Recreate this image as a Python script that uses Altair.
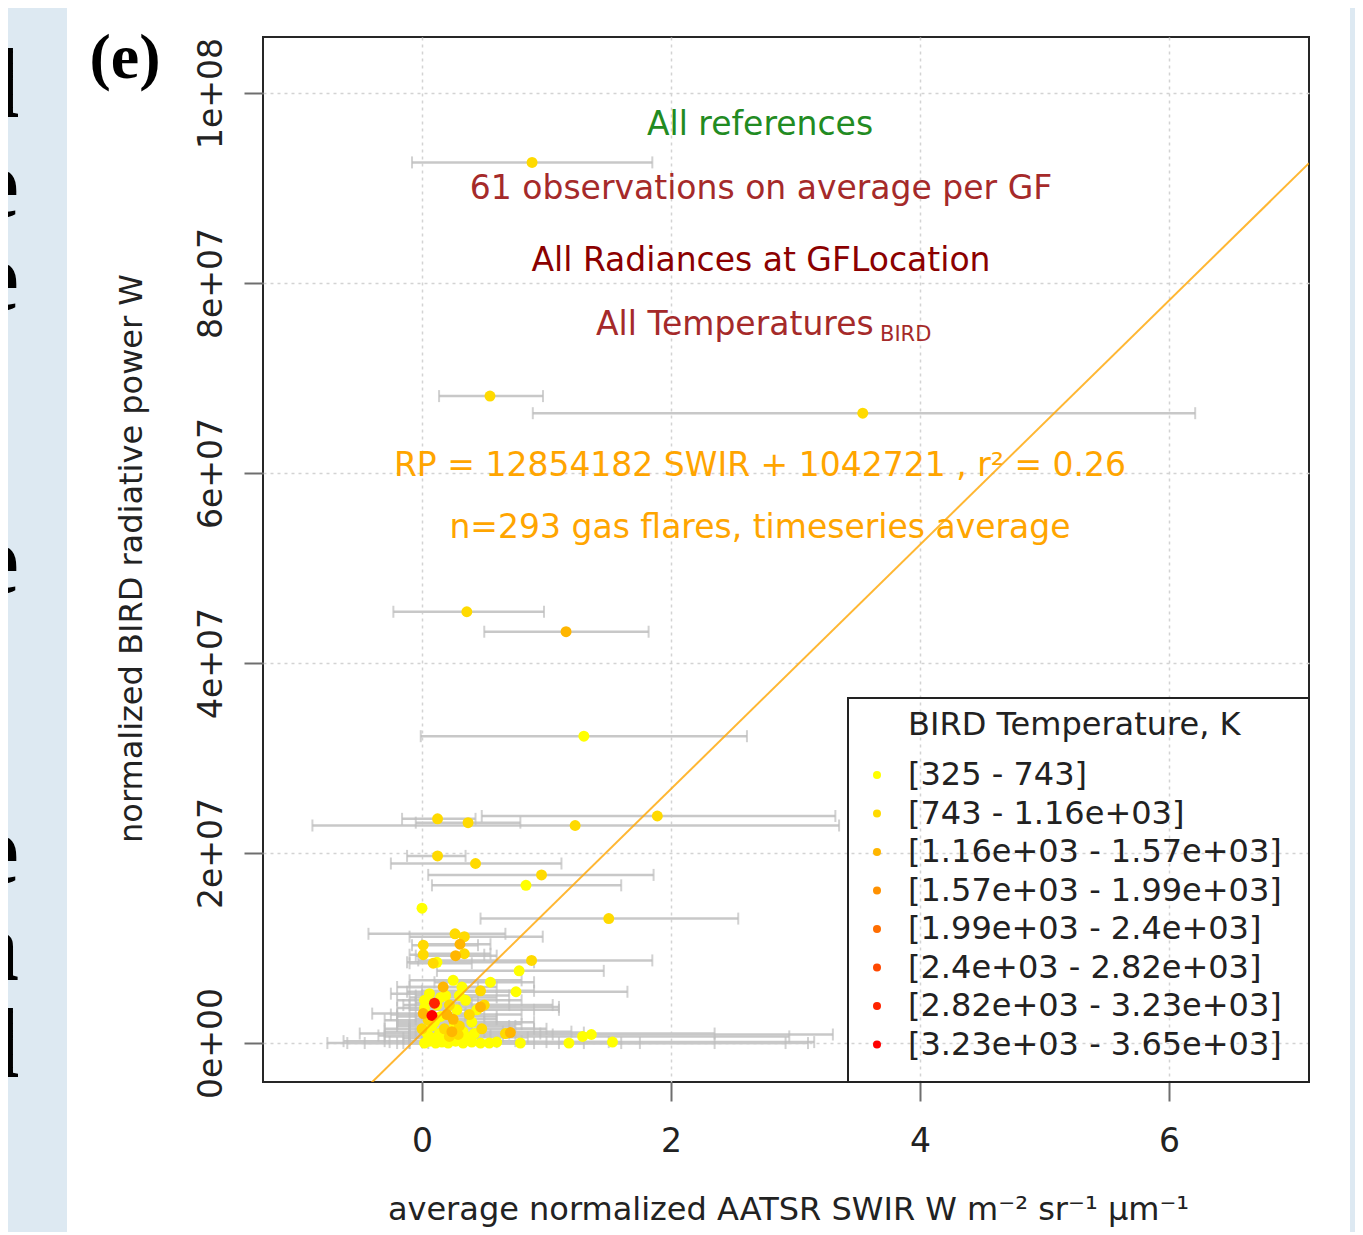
import altair as alt
import pandas as pd
import numpy as np

# ---------------- data ----------------
swir_mean = [0.884, 0.546, 3.54, 0.36, 1.157, 1.30, 1.89, 0.125, 0.37, 1.23,
             0.125, 0.43, 0.96, 0.835, 0.00, 1.50, 0.265, 0.34, 0.305, 0.01,
             0.01, 0.27, 0.34, 0.88, 0.09, 0.12, 0.78, 0.55, 0.25, 0.32,
             0.17, 0.47, 0.755, 0.10, 0.08, 0.47, 0.50, 0.01, 0.67, 0.71,
             0.79, 1.18, 1.29, 1.36, 1.53,
             0.02, 0.06, 0.11, 0.16, 0.21, 0.27, 0.33, 0.40, 0.47, 0.54, 0.60,
             0.03, 0.08, 0.18, 0.26, 0.33, 0.40, 0.48, 0.15, 0.05,
             0.02, 0.06, 0.15, 0.22, 0.28, 0.35, 0.38, 0.02, 0.20,
             0.05, 0.10, 0.14, 0.22, 0.29, 0.36, 0.42, 0.12, 0.04, 0.25,
             0.30, 0.10, 0.19, 0.30, 0.44, 0.00, 0.24]
rp_mean = [9.27e7, 6.81e7, 6.63e7, 4.54e7, 4.33e7, 3.23e7, 2.39e7, 2.36e7, 2.32e7, 2.29e7,
           1.97e7, 1.89e7, 1.77e7, 1.66e7, 1.42e7, 1.31e7, 1.15e7, 1.12e7, 1.04e7, 1.03e7,
           0.93e7, 0.92e7, 0.94e7, 0.87e7, 0.84e7, 0.85e7, 0.76e7, 0.64e7, 0.66e7, 0.59e7,
           0.59e7, 0.55e7, 0.54e7, 0.42e7, 0.29e7, 0.38e7, 0.40e7, 0.31e7, 0.10e7, 0.11e7,
           0.00e7, 0.00e7, 0.07e7, 0.09e7, 0.01e7,
           0.00e7, 0.02e7, 0.00e7, 0.01e7, 0.00e7, 0.02e7, 0.00e7, 0.01e7, 0.00e7, 0.00e7, 0.01e7,
           0.12e7, 0.18e7, 0.15e7, 0.20e7, 0.12e7, 0.22e7, 0.15e7, 0.28e7, 0.24e7,
           0.45e7, 0.52e7, 0.48e7, 0.40e7, 0.35e7, 0.45e7, 0.30e7, 0.37e7, 0.30e7,
           0.08e7, 0.05e7, 0.10e7, 0.07e7, 0.09e7, 0.06e7, 0.10e7, 0.40e7, 0.30e7, 0.25e7,
           0.18e7, 0.22e7, 0.50e7, 0.50e7, 0.35e7, 0.15e7, 0.12e7]
swir_lo = [-0.08, 0.137, 0.89, -0.23, 0.50, -0.01, 0.48, -0.16, -0.05, -0.88,
           -0.12, -0.25, 0.05, 0.08, None, 0.47, -0.43, -0.10, 0.00, -0.08,
           -0.10, -0.05, 0.00, -0.03, -0.10, -0.12, 0.12, 0.10, -0.10, -0.20,
           -0.10, 0.00, -0.12, -0.05, -0.05, 0.00, 0.05, -0.40, -0.50, 0.10,
           -0.10, -0.60, -0.30, -0.10, 0.00,
           -0.76, -0.63, -0.46, -0.26, -0.10, -0.30, -0.20, 0.00, -0.15, 0.05, 0.10,
           -0.30, -0.20, -0.10, -0.20, 0.00, -0.10, 0.05, -0.20, -0.30,
           -0.20, -0.25, -0.10, -0.10, -0.10, -0.05, 0.00, -0.20, -0.20,
           -0.35, -0.15, -0.05, -0.10, 0.00, -0.10, 0.05, -0.15, -0.25, -0.05,
           -0.10, -0.20, -0.05, 0.00, 0.05, -0.30, -0.10]
swir_hi = [1.85, 0.972, 6.21, 0.98, 1.82, 2.61, 3.32, 0.43, 0.79, 3.35,
           0.35, 1.12, 1.86, 1.60, None, 2.54, 0.67, 0.97, 0.55, 0.45,
           0.50, 0.60, 0.55, 1.85, 0.40, 0.90, 1.46, 0.90, 0.80, 0.60,
           0.45, 0.90, 1.65, 0.40, 0.35, 1.10, 1.05, 0.35, 2.35, 1.30,
           1.60, 3.10, 2.95, 3.30, 3.15,
           0.90, 0.75, 1.10, 0.60, 1.75, 0.80, 2.35, 1.00, 1.30, 2.92, 1.50,
           0.50, 0.70, 0.90, 0.80, 1.20, 0.90, 1.00, 0.60, 0.40,
           0.35, 0.30, 0.60, 0.70, 0.90, 0.80, 0.80, 0.30, 0.50,
           0.55, 0.45, 0.70, 0.65, 1.05, 0.85, 0.95, 0.45, 0.35, 0.60,
           0.75, 0.50, 0.45, 0.70, 1.10, 0.40, 0.65]
temp_class = [1, 1, 1, 1, 2, 0, 1, 1, 1, 1,
              1, 1, 1, 0, 0, 1, 1, 1, 2, 1,
              1, 2, 1, 1, 1, 0, 0, 0, 0, 0,
              2, 1, 0, 6, 7, 2, 1, 2, 1, 2,
              0, 0, 0, 0, 0,
              0, 0, 0, 0, 0, 0, 0, 0, 0, 0, 0,
              0, 0, 1, 0, 0, 0, 1, 0, 1,
              0, 0, 0, 1, 0, 0, 1, 0, 2,
              0, 0, 0, 1, 1, 0, 0, 0, 0, 2,
              1, 0, 0, 0, 0, 1, 2]

class_labels = ["[325 - 743]", "[743 - 1.16e+03]", "[1.16e+03 - 1.57e+03]",
                "[1.57e+03 - 1.99e+03]", "[1.99e+03 - 2.4e+03]", "[2.4e+03 - 2.82e+03]",
                "[2.82e+03 - 3.23e+03]", "[3.23e+03 - 3.65e+03]"]
class_colors = ["#FFFF00", "#FFDA00", "#FFB600", "#FF9100",
                "#FF6D00", "#FF4800", "#FF2400", "#FF0000"]

fit_slope = 12854182
fit_intercept = 1042721

x_ticks = [0, 2, 4, 6]
y_ticks = [0, 2e7, 4e7, 6e7, 8e7, 1e8]

# ---------------- tables ----------------
df = pd.DataFrame({
    "x": swir_mean, "y": rp_mean,
    "lo": pd.to_numeric(pd.Series(swir_lo), errors="coerce"),
    "hi": pd.to_numeric(pd.Series(swir_hi), errors="coerce"),
    "cls": [class_labels[c] for c in temp_class],
    "k": temp_class,
})
df = df.sort_values("k", kind="stable").reset_index(drop=True)

x_dom = [-1.277, 7.124]
y_dom = [-4.1e6, 1.059e8]
df_fit = pd.DataFrame({"x": x_dom})
df_fit["y"] = fit_slope * df_fit["x"] + fit_intercept

W, H = 1046, 1045
FONT = "DejaVu Sans"

xs = alt.Scale(domain=x_dom, nice=False, zero=False)
ys = alt.Scale(domain=y_dom, nice=False, zero=False)
x_axis = alt.Axis(values=x_ticks, labelExpr="format(datum.value, 'd')",
                  labelBaseline="alphabetic", labelPadding=50,
                  titleX=525, titleY=137, titleBaseline="alphabetic", titleAlign="center")
y_axis = alt.Axis(values=y_ticks,
                  labelExpr="datum.value == 0 ? '0e+00' : (datum.value >= 1e8 ? '1e+08' : format(datum.value/1e7, 'd') + 'e+07')",
                  labelAngle=270, labelAlign="center", labelBaseline="alphabetic", labelPadding=23,
                  titleX=-122, titleY=521, titleAngle=270, titleBaseline="alphabetic", titleAlign="center")
X_TITLE = "average normalized AATSR SWIR W m\u207b\u00b2 sr\u207b\u00b9 \u03bcm\u207b\u00b9"
Y_TITLE = "normalized BIRD radiative power W"


def X(f):
    return alt.X(f, type="quantitative", scale=xs, axis=x_axis, title=X_TITLE)


def Y(f):
    return alt.Y(f, type="quantitative", scale=ys, axis=y_axis, title=Y_TITLE)


base = alt.Chart(df)
bars = base.transform_filter("isValid(datum.lo)").mark_rule(
    color="#C8C8C8", strokeWidth=2.5).encode(x=X("lo"), x2="hi", y=Y("y"))
cap_lo = base.transform_filter("isValid(datum.lo)").mark_tick(
    orient="vertical", size=12, thickness=2, color="#BDBDBD").encode(x=X("lo"), y=Y("y"))
cap_hi = base.transform_filter("isValid(datum.hi)").mark_tick(
    orient="vertical", size=12, thickness=2, color="#BDBDBD").encode(x=X("hi"), y=Y("y"))
points = base.mark_circle(size=120, opacity=1).encode(
    x=X("x"), y=Y("y"),
    color=alt.Color("cls:N", scale=alt.Scale(domain=class_labels, range=class_colors), legend=None))
fit = alt.Chart(df_fit).mark_line(clip=True, color="#FFA500", opacity=0.8, strokeWidth=2).encode(
    x=X("x"), y=Y("y"))

one = pd.DataFrame({"a": [0]})


def txt(s, x, y, size=33, color="#222222", align="center", baseline="middle",
        font=FONT, weight="normal"):
    return alt.Chart(one).mark_text(text=s, fontSize=size, color=color, align=align,
                                    baseline=baseline, font=font, fontWeight=weight).encode(
        x=alt.value(x), y=alt.value(y))


# page decorations (blue page margin, cut-off letters, panel label)
strip_l = alt.Chart(one).mark_rect(color="#DDE9F2").encode(
    x=alt.value(-256), x2=alt.value(-196), y=alt.value(-30), y2=alt.value(1200))
strip_r = alt.Chart(one).mark_rect(color="#DDE9F2").encode(
    x=alt.value(1087), x2=alt.value(1100), y=alt.value(-30), y2=alt.value(1200))
page_letters = [("d", 80), ("e", 180), ("e", 273), ("e", 556), ("e", 846), ("n", 943), ("d", 1040)]
letter_layers = [txt(ch, -244, yy, size=100, color="#000000", align="right",
                     baseline="alphabetic", font="Liberation Serif", weight="bold")
                 for ch, yy in page_letters]
panel = txt("(e)", -138, 41, size=64, color="#000000", baseline="alphabetic",
            font="Liberation Serif", weight="bold")

# annotations
notes = [
    txt("All references", 497, 88, color="#228B22"),
    txt("61 observations on average per GF", 498, 152, color="#A52A2A"),
    txt("All Radiances at GFLocation", 498, 224, color="#8B0000"),
    txt("All Temperatures", 333, 288, color="#A52A2A", align="left"),
    txt("BIRD", 617, 298, size=21, color="#A52A2A", align="left"),
    txt("RP = 12854182 SWIR + 1042721 , r\u00b2 = 0.26", 497, 429, color="#FFA500"),
    txt("n=293 gas flares, timeseries average", 497, 491, color="#FFA500"),
]

# legend (drawn by hand as in the R figure)
leg_box = alt.Chart(one).mark_rect(fillOpacity=0, stroke="#222222", strokeWidth=2).encode(
    x=alt.value(585), x2=alt.value(W), y=alt.value(661), y2=alt.value(H))
leg_layers = [leg_box, txt("BIRD Temperature, K", 645, 688, size=32, align="left")]
for i, (lab, col) in enumerate(zip(class_labels, class_colors)):
    yy = 738 + 38.5 * i
    leg_layers.append(alt.Chart(one).mark_circle(size=64, color=col, opacity=1).encode(
        x=alt.value(614), y=alt.value(yy)))
    leg_layers.append(txt(lab, 645, yy, size=32, align="left"))

chart = alt.layer(
    strip_l, strip_r, *letter_layers, panel,
    bars, cap_lo, cap_hi, points, fit, *notes, *leg_layers
).properties(
    width=W, height=H,
    autosize=alt.AutoSizeParams(type="none"),
    padding={"left": 255, "top": 29, "right": 46, "bottom": 150},
    background="#FFFFFF",
).configure_view(
    stroke="#262626", strokeWidth=2
).configure_axis(
    grid=True, gridColor="#D3D3D3", gridDash=[3, 4], gridWidth=1.5,
    domain=False, tickColor="#6E6E6E", tickWidth=2, tickSize=19,
    labelFont=FONT, labelFontSize=33, labelColor="#222222",
    titleFont=FONT, titleFontSize=32, titleFontWeight="normal", titleColor="#222222",
)

chart.save("out.html", embed_options={"renderer": "svg", "actions": False})
